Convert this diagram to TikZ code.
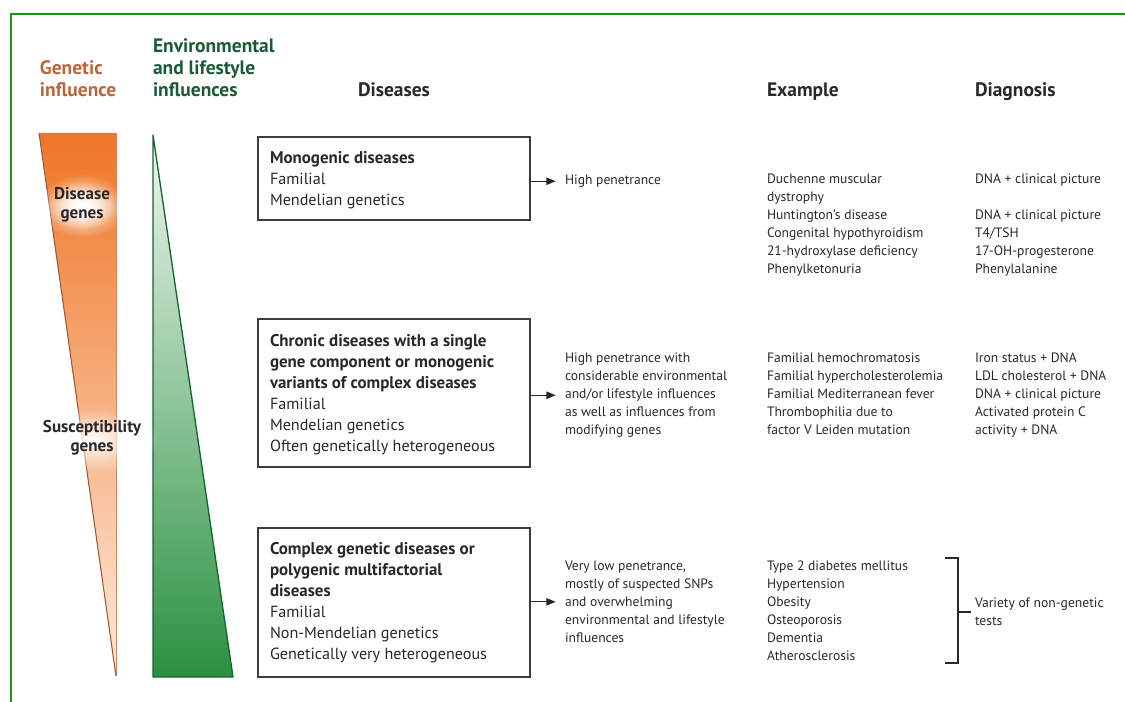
\documentclass[tikz,border=0pt]{standalone}
\usepackage{fontspec}
\setmainfont{PT Sans}
\usetikzlibrary{arrows.meta,fit,fadings}

\definecolor{frameGreen}{RGB}{24,150,24}
\definecolor{geneBrown}{RGB}{184,102,58}
\definecolor{envGreen}{RGB}{28,90,55}
\definecolor{orangeTop}{RGB}{240,118,38}
\definecolor{orangeBot}{RGB}{253,234,220}
\definecolor{orangeEdge}{RGB}{170,86,42}
\definecolor{greenTop}{RGB}{240,247,241}
\definecolor{greenBot}{RGB}{42,145,64}
\definecolor{greenEdge}{RGB}{24,98,52}
\definecolor{ink}{RGB}{40,40,40}

% radial fade used for the soft halos behind the wedge labels
\tikzfading[name=softglow, inner color=transparent!0, outer color=transparent!100]

% bold lead lines inside the disease boxes
\newcommand\leadline[1]{{\fontsize{12.7}{15.75}\selectfont\bfseries #1}}

\begin{document}
\begin{tikzpicture}[x=0.75pt,y=-0.75pt,
  every node/.style={inner sep=0pt, outer sep=0pt, text=ink},
  headtext/.style={font=\fontsize{14.6}{16.5}\selectfont\bfseries, align=left},
  shapelabel/.style={font=\fontsize{12.8}{14.25}\selectfont\bfseries, align=center, anchor=north},
  boxtext/.style={font=\fontsize{12.1}{15.75}\selectfont, align=left, anchor=north west},
  coltext/.style={font=\fontsize{10.2}{13.5}\selectfont, align=left, anchor=north west},
  dbox/.style={draw=ink!90, line width=0.9pt, inner sep=0pt},
  arr/.style={-{Triangle[length=7pt,width=5.5pt]}, line width=0.9pt, draw=ink, shorten >=7pt},
  brk/.style={draw=ink, line width=1pt},
  glow/.style={white, path fading=softglow}
]
\useasboundingbox (0,0) rectangle (1125,702);

% outer frame (open to the right and bottom)
\draw[frameGreen, line width=1.5pt] (11,703) -- (11,14) -- (1126,14);

% column headings
\node[headtext, text=geneBrown, anchor=north west] (hgen) at (40,61) {Genetic\\influence};
\node[headtext, text=envGreen, anchor=north west] (henv) at (153,39) {Environmental\\and lifestyle\\influences};
\node[headtext, anchor=base west] (hdis) at (358,97) {Diseases};
\node[headtext, anchor=base west] (hex) at (767,97) {Example};
\node[headtext, anchor=base west] (hdia) at (975,97) {Diagnosis};

% genetic influence wedge
\shade[top color=orangeTop, bottom color=orangeBot] (39,133) -- (116,133) -- (116,676) -- cycle;
\draw[orangeEdge!70, line width=0.5pt, line join=round] (39,133) -- (116,133) -- (116,676);
\draw[orangeEdge, line width=0.8pt] (39,133) -- (116,676);

% environmental influence wedge
\shade[top color=greenTop, bottom color=greenBot] (153,135) -- (233,677) -- (153,677) -- cycle;
\draw[greenEdge, line width=1pt, line join=round] (153,135) -- (233,677) -- (153,677) -- cycle;

% soft halos behind the wedge labels
\fill[glow] (82,206) ellipse [x radius=44, y radius=32];
\fill[glow] (82,206) ellipse [x radius=36, y radius=24];
\fill[glow] (92,440) ellipse [x radius=66, y radius=32];
\node[shapelabel] (dgenes) at (82,187) {Disease\\genes};
\node[shapelabel] (sgenes) at (92,420) {Susceptibility\\genes};

% disease boxes
\node[dbox, fit={(258,137) (530,220)}] (box1) {};
\node[dbox, fit={(258,319) (530,467)}] (box2) {};
\node[dbox, fit={(258,528) (530,677)}] (box3) {};

\node[boxtext] (box1txt) at (270,151) {\leadline{Monogenic diseases}\\Familial\\Mendelian genetics};
\node[boxtext] (box2txt) at (270,334) {\leadline{Chronic diseases with a single}\\\leadline{gene component or monogenic}\\\leadline{variants of complex diseases}\\Familial\\Mendelian genetics\\Often genetically heterogeneous};
\node[boxtext] (box3txt) at (270,542) {\leadline{Complex genetic diseases or}\\\leadline{polygenic multifactorial}\\\leadline{diseases}\\Familial\\Non-Mendelian genetics\\Genetically very heterogeneous};

% penetrance descriptions
\node[coltext] (pen1) at (565,175) {High penetrance};
\node[coltext] (pen2) at (565,353) {High penetrance with\\considerable environmental\\and/or lifestyle influences\\as well as influences from\\modifying genes};
\node[coltext] (pen3) at (565,561) {Very low penetrance,\\mostly of suspected SNPs\\and overwhelming\\environmental and lifestyle\\influences};

\draw[arr] (box1.east |- pen1.west) -- (pen1.west);
\draw[arr] (box2.east |- pen2.west) -- (pen2.west);
\draw[arr] (box3.east |- pen3.west) -- (pen3.west);

% examples
\node[coltext] (ex1) at (767,174) {Duchenne muscular\\dystrophy\\Huntington's disease\\Congenital hypothyroidism\\21-hydroxylase deficiency\\Phenylketonuria};
\node[coltext] (ex2) at (767,353) {Familial hemochromatosis\\Familial hypercholesterolemia\\Familial Mediterranean fever\\Thrombophilia due to\\factor V Leiden mutation};
\node[coltext] (ex3) at (767,561) {Type 2 diabetes mellitus\\Hypertension\\Obesity\\Osteoporosis\\Dementia\\Atherosclerosis};

% diagnosis
\node[coltext] (dg1) at (975,174) {DNA + clinical picture\\\mbox{}\\DNA + clinical picture\\T4/TSH\\17-OH-progesterone\\Phenylalanine};
\node[coltext] (dg2) at (975,353) {Iron status + DNA\\LDL cholesterol + DNA\\DNA + clinical picture\\Activated protein C\\activity + DNA};
\node[coltext] (dg3) at (975,598) {Variety of non-genetic\\tests};

% bracket grouping the complex diseases
\coordinate (bt) at (958,558);
\coordinate (bb) at (958,663);
\draw[brk] (945,558) -- (bt) -- (bb) -- (945,663);
\draw[brk, shorten >=3pt] (bt |- dg3.west) -- (dg3.west);

\end{tikzpicture}
\end{document}
